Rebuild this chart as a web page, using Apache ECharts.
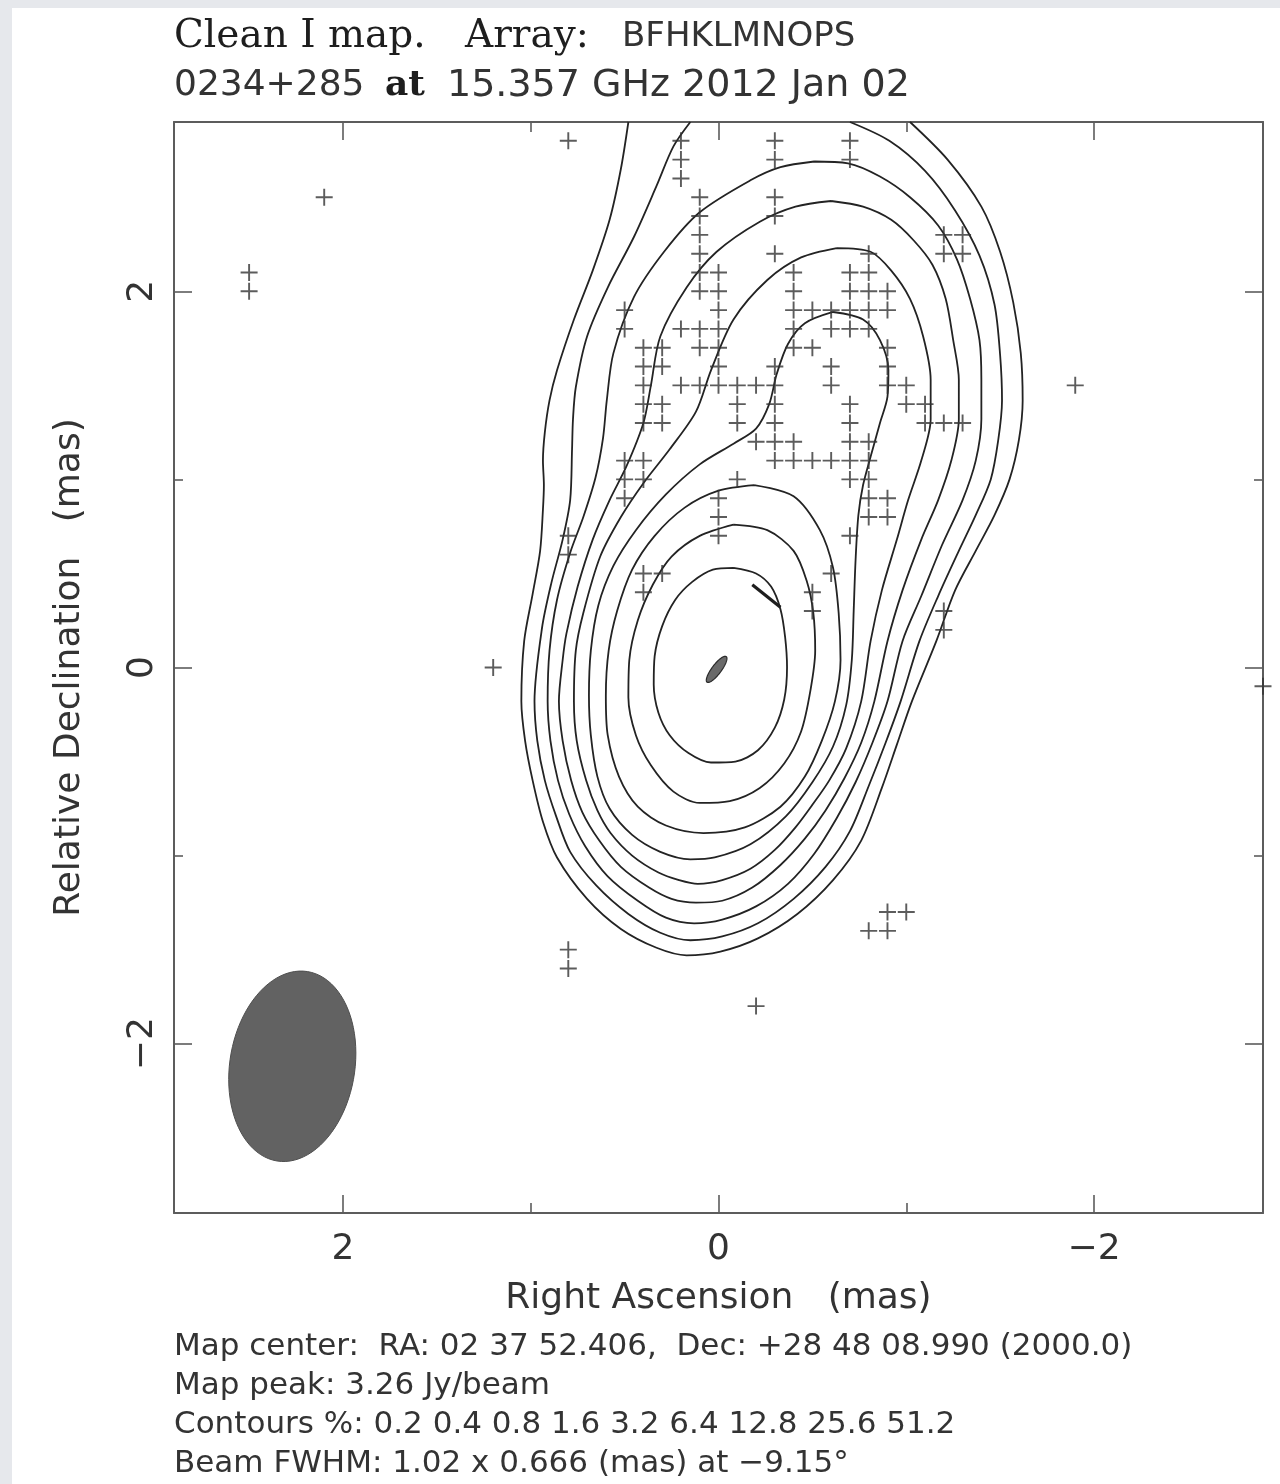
<!DOCTYPE html>
<html>
<head>
<meta charset="utf-8">
<script src="https://cdn.jsdelivr.net/npm/echarts@6/dist/echarts.min.js"></script>
<style>
  html, body { margin: 0; padding: 0; background: #e6e8ec; }
  #sheet { position: absolute; left: 12px; top: 8px; width: 1268px; height: 1476px; background: #ffffff; }
  #chart { position: absolute; left: 0; top: 0; width: 1280px; height: 1484px; }
</style>
</head>
<body>
<div id="sheet"></div>
<div id="chart"></div>
<script>
// ---- Map data: offsets in mas, [Right Ascension, Relative Declination] ----

// Contour levels, % of map peak
const contourLevels = [0.2, 0.4, 0.8, 1.6, 3.2, 6.4, 12.8, 25.6, 51.2];

// Contour paths, outermost (0.2 %) to innermost (51.2 %)
const contour0p2 = [[0.48,2.90],[0.52,2.65],[0.58,2.38],[0.67,2.11],[0.77,1.85],[0.86,1.58],[0.90,1.42],[0.925,1.25],[0.935,1.10],[0.93,0.97],[0.935,0.84],[0.95,0.62],[0.99,0.39],[1.035,0.14],[1.05,-0.18],[1.03,-0.39],[0.99,-0.60],[0.935,-0.82],[0.86,-1.01],[0.70,-1.23],[0.52,-1.39],[0.33,-1.49],[0.17,-1.53],[-0.01,-1.51],[-0.21,-1.44],[-0.42,-1.31],[-0.61,-1.13],[-0.76,-0.92],[-0.87,-0.64],[-0.95,-0.41],[-1.03,-0.18],[-1.16,0.14],[-1.26,0.41],[-1.37,0.62],[-1.47,0.81],[-1.55,1.00],[-1.60,1.21],[-1.62,1.42],[-1.61,1.67],[-1.57,1.94],[-1.50,2.21],[-1.40,2.45],[-1.22,2.70],[-1.02,2.90]];
const contour0p4 = [[0.15,2.90],[0.24,2.77],[0.33,2.56],[0.45,2.29],[0.59,2.02],[0.70,1.76],[0.76,1.49],[0.775,1.32],[0.78,1.16],[0.79,0.89],[0.83,0.68],[0.89,0.45],[0.94,0.21],[0.98,-0.18],[0.965,-0.39],[0.925,-0.60],[0.865,-0.79],[0.79,-0.98],[0.65,-1.16],[0.48,-1.31],[0.31,-1.41],[0.15,-1.45],[-0.02,-1.43],[-0.21,-1.36],[-0.40,-1.23],[-0.57,-1.06],[-0.70,-0.87],[-0.80,-0.63],[-0.89,-0.40],[-0.97,-0.18],[-1.07,0.14],[-1.17,0.38],[-1.28,0.62],[-1.37,0.81],[-1.45,1.00],[-1.49,1.21],[-1.51,1.42],[-1.50,1.66],[-1.47,1.93],[-1.39,2.19],[-1.26,2.43],[-1.10,2.64],[-0.91,2.80],[-0.70,2.90]];
const contour0p8 = [[-0.51,2.69],[-0.69,2.68],[-0.86,2.61],[-1.02,2.50],[-1.17,2.35],[-1.27,2.17],[-1.34,1.96],[-1.39,1.74],[-1.40,1.53],[-1.40,1.32],[-1.37,1.10],[-1.30,0.89],[-1.19,0.65],[-1.08,0.38],[-0.98,0.14],[-0.90,-0.18],[-0.82,-0.40],[-0.73,-0.61],[-0.63,-0.80],[-0.51,-0.99],[-0.37,-1.15],[-0.20,-1.27],[-0.02,-1.34],[0.13,-1.36],[0.28,-1.33],[0.43,-1.24],[0.59,-1.11],[0.71,-0.95],[0.795,-0.78],[0.855,-0.60],[0.895,-0.39],[0.91,-0.18],[0.90,0.09],[0.86,0.36],[0.79,0.61],[0.72,0.80],[0.655,1.01],[0.615,1.22],[0.595,1.42],[0.56,1.67],[0.45,1.97],[0.29,2.21],[0.10,2.42],[-0.17,2.59],[-0.33,2.66],[-0.51,2.69]];
const contour1p6 = [[-0.60,2.48],[-0.77,2.45],[-0.92,2.38],[-1.04,2.27],[-1.14,2.14],[-1.21,1.96],[-1.25,1.74],[-1.28,1.53],[-1.28,1.32],[-1.24,1.10],[-1.17,0.89],[-1.08,0.68],[-0.98,0.41],[-0.90,0.14],[-0.83,-0.18],[-0.76,-0.40],[-0.67,-0.59],[-0.57,-0.76],[-0.46,-0.91],[-0.33,-1.05],[-0.18,-1.17],[-0.02,-1.24],[0.12,-1.25],[0.25,-1.23],[0.37,-1.17],[0.52,-1.06],[0.635,-0.92],[0.725,-0.77],[0.785,-0.60],[0.83,-0.39],[0.85,-0.18],[0.83,0.04],[0.81,0.18],[0.75,0.43],[0.67,0.68],[0.58,0.89],[0.49,1.07],[0.40,1.30],[0.36,1.50],[0.31,1.76],[0.17,2.02],[0.01,2.21],[-0.22,2.37],[-0.41,2.45],[-0.60,2.48]];
const contour3p2 = [[-0.63,2.23],[-0.81,2.21],[-0.92,2.11],[-1.02,1.96],[-1.09,1.76],[-1.13,1.53],[-1.13,1.32],[-1.08,1.10],[-1.01,0.89],[-0.95,0.68],[-0.87,0.41],[-0.81,0.14],[-0.76,-0.18],[-0.68,-0.43],[-0.59,-0.60],[-0.50,-0.73],[-0.41,-0.85],[-0.30,-0.97],[-0.17,-1.07],[-0.02,-1.13],[0.11,-1.15],[0.21,-1.13],[0.32,-1.09],[0.46,-1.00],[0.575,-0.88],[0.645,-0.76],[0.705,-0.60],[0.755,-0.39],[0.77,-0.18],[0.76,0.09],[0.72,0.29],[0.63,0.59],[0.52,0.80],[0.40,0.98],[0.26,1.16],[0.12,1.36],[0.04,1.58],[-0.08,1.85],[-0.26,2.06],[-0.44,2.18],[-0.63,2.23]];
const contour6p4 = [[-0.61,1.89],[-0.77,1.85],[-0.86,1.74],[-0.905,1.58],[-0.90,1.44],[-0.86,1.30],[-0.81,1.12],[-0.77,0.97],[-0.745,0.81],[-0.73,0.57],[-0.72,0.30],[-0.71,0.04],[-0.68,-0.20],[-0.61,-0.42],[-0.50,-0.61],[-0.36,-0.79],[-0.17,-0.94],[0.02,-1.01],[0.15,-1.02],[0.31,-0.98],[0.46,-0.89],[0.58,-0.75],[0.645,-0.58],[0.68,-0.36],[0.69,-0.15],[0.68,0.09],[0.64,0.33],[0.56,0.54],[0.44,0.73],[0.28,0.92],[0.10,1.08],[-0.08,1.19],[-0.20,1.27],[-0.27,1.40],[-0.31,1.56],[-0.37,1.72],[-0.46,1.83],[-0.61,1.89]];
const contour12p8 = [[-0.19,0.97],[-0.40,0.91],[-0.54,0.73],[-0.61,0.53],[-0.64,0.29],[-0.65,0.04],[-0.62,-0.18],[-0.55,-0.39],[-0.46,-0.58],[-0.33,-0.74],[-0.14,-0.85],[0.08,-0.88],[0.28,-0.84],[0.43,-0.74],[0.53,-0.58],[0.59,-0.36],[0.60,-0.15],[0.585,0.09],[0.54,0.30],[0.46,0.52],[0.34,0.70],[0.18,0.85],[0.00,0.94],[-0.19,0.97]];
const contour25p6 = [[-0.08,0.76],[-0.26,0.73],[-0.40,0.62],[-0.47,0.46],[-0.505,0.29],[-0.515,0.09],[-0.49,-0.12],[-0.44,-0.34],[-0.35,-0.51],[-0.22,-0.64],[-0.06,-0.71],[0.10,-0.72],[0.24,-0.66],[0.36,-0.52],[0.44,-0.36],[0.48,-0.16],[0.475,0.04],[0.43,0.25],[0.35,0.44],[0.25,0.59],[0.10,0.70],[-0.08,0.76]];
const contour51p2 = [[-0.08,0.53],[-0.20,0.50],[-0.28,0.43],[-0.33,0.31],[-0.355,0.16],[-0.365,0.00],[-0.35,-0.17],[-0.30,-0.32],[-0.21,-0.44],[-0.09,-0.50],[0.04,-0.505],[0.16,-0.455],[0.26,-0.36],[0.32,-0.24],[0.345,-0.09],[0.34,0.06],[0.30,0.22],[0.23,0.36],[0.14,0.455],[0.03,0.52],[-0.08,0.53]];
const contourPaths = [contour0p2, contour0p4, contour0p8, contour1p6, contour3p2, contour6p4, contour12p8, contour25p6, contour51p2];

// CLEAN components
const cleanComponents = [
  [2.5,2.1],[2.5,2.0],[2.1,2.5],[0.8,2.8],[1.2,0.0],[0.8,0.7],[0.8,0.6],[0.8,-1.5],[0.8,-1.6],
  [0.5,1.9],[0.5,1.8],[0.5,1.1],[0.5,1.0],[0.5,0.9],
  [0.4,1.7],[0.4,1.6],[0.4,1.5],[0.4,1.4],[0.4,1.3],[0.4,1.1],[0.4,1.0],[0.4,0.5],[0.4,0.4],
  [0.3,1.7],[0.3,1.6],[0.3,1.4],[0.3,1.3],[0.3,0.5],
  [0.2,2.8],[0.2,2.7],[0.2,2.6],[0.2,1.8],[0.2,1.5],
  [0.1,2.5],[0.1,2.4],[0.1,2.3],[0.1,2.2],[0.1,2.1],[0.1,2.0],[0.1,1.8],[0.1,1.7],[0.1,1.5],
  [0.0,2.1],[0.0,2.0],[0.0,1.9],[0.0,1.8],[0.0,1.7],[0.0,1.6],[0.0,1.5],[0.0,0.9],[0.0,0.8],[0.0,0.7],
  [-0.1,1.5],[-0.1,1.4],[-0.1,1.3],[-0.1,1.0],
  [-0.2,1.5],[-0.2,1.2],[-0.2,-1.8],
  [-0.3,2.8],[-0.3,2.7],[-0.3,2.5],[-0.3,2.4],[-0.3,2.2],[-0.3,1.6],[-0.3,1.5],[-0.3,1.4],[-0.3,1.3],[-0.3,1.2],[-0.3,1.1],
  [-0.4,2.1],[-0.4,2.0],[-0.4,1.9],[-0.4,1.8],[-0.4,1.7],[-0.4,1.2],[-0.4,1.1],
  [-0.5,1.9],[-0.5,1.7],[-0.5,1.1],[-0.5,0.4],[-0.5,0.3],
  [-0.6,1.9],[-0.6,1.8],[-0.6,1.6],[-0.6,1.5],[-0.6,1.1],[-0.6,0.5],
  [-0.7,2.8],[-0.7,2.7],[-0.7,2.1],[-0.7,2.0],[-0.7,1.9],[-0.7,1.8],[-0.7,1.4],[-0.7,1.3],[-0.7,1.2],[-0.7,1.1],[-0.7,1.0],[-0.7,0.7],
  [-0.8,2.2],[-0.8,2.1],[-0.8,2.0],[-0.8,1.9],[-0.8,1.8],[-0.8,1.2],[-0.8,1.1],[-0.8,1.0],[-0.8,0.9],[-0.8,0.8],[-0.8,-1.4],
  [-0.9,2.0],[-0.9,1.9],[-0.9,1.7],[-0.9,1.6],[-0.9,1.5],[-0.9,0.9],[-0.9,0.8],[-0.9,-1.3],[-0.9,-1.4],
  [-1.0,1.5],[-1.0,1.4],[-1.0,-1.3],
  [-1.1,1.4],[-1.1,1.3],
  [-1.2,2.3],[-1.2,2.2],[-1.2,1.3],[-1.2,0.3],[-1.2,0.2],
  [-1.3,2.3],[-1.3,2.2],[-1.3,1.3],
  [-1.9,1.5],[-2.9,-0.1]
];

// Dense component clusters near the core
const coreBlob = [[0.01, -0.01, 0.17, 0.05, -37]];        // RA, Dec, length, width (mas), angle (deg)
const coreStreak = [[-0.18, 0.44], [-0.33, 0.32]];

// Restoring beam: RA, Dec of the drawn ellipse, FWHM major, minor (mas), position angle (deg)
const beam = [[2.27, -2.12, 1.02, 0.666, -9.15]];

// Axes
const axisRange = [-2.9, 2.9];
const majorTicks = [-2, 0, 2];
const minorTicks = [-1, 1];

// ---- Styling ----
const SANS = '"DejaVu Sans", "Liberation Sans", sans-serif';
const SERIF = '"DejaVu Serif", "Liberation Serif", serif';
const INK = '#333333';
const FRAME = '#5c5c5c';

function tickLabel(v) {
  return v < 0 ? '\u2212' + Math.abs(v) : String(v);
}

function frameAxis(position, ticks, tickLen, primary, extra) {
  return Object.assign({
    type: 'value',
    position: position,
    min: axisRange[0],
    max: axisRange[1],
    axisLine: { show: primary, onZero: false, lineStyle: { color: FRAME, width: 2 } },
    axisTick: { show: true, inside: true, length: tickLen, customValues: ticks,
                lineStyle: { color: FRAME, width: 1.6 } },
    axisLabel: { show: false },
    splitLine: { show: false },
    minorTick: { show: false }
  }, extra || {});
}

const labelStyle = (margin, rotate) => ({
  show: true, customValues: majorTicks, formatter: tickLabel,
  color: INK, fontFamily: SANS, fontSize: 36, margin: margin, rotate: rotate || 0
});

const xAxes = [
  frameAxis('bottom', majorTicks, 18, true, {
    inverse: true,
    axisLabel: labelStyle(19),
    name: 'Right Ascension   (mas)', nameLocation: 'middle', nameGap: 68,
    nameTextStyle: { color: INK, fontFamily: SANS, fontSize: 36 }
  }),
  frameAxis('bottom', minorTicks, 10, false, { inverse: true }),
  frameAxis('top', majorTicks, 18, true, { inverse: true }),
  frameAxis('top', minorTicks, 10, false, { inverse: true })
];

const yAxes = [
  frameAxis('left', majorTicks, 18, true, {
    axisLabel: labelStyle(13, 90),
    name: 'Relative Declination   (mas)', nameLocation: 'middle', nameGap: 86,
    nameTextStyle: { color: INK, fontFamily: SANS, fontSize: 36 }
  }),
  frameAxis('left', minorTicks, 9, false),
  frameAxis('right', majorTicks, 18, true),
  frameAxis('right', minorTicks, 9, false)
];

// Ellipse outline from centre, full axes and position angle (north through east; east = +RA)
function ellipseItem(params, api) {
  const ra = api.value(0), dec = api.value(1);
  const maj = api.value(2) / 2, mnr = api.value(3) / 2;
  const pa = api.value(4) * Math.PI / 180;
  const pts = [];
  for (let k = 0; k < 90; k++) {
    const t = k / 90 * 2 * Math.PI;
    const e = maj * Math.cos(t) * Math.sin(pa) + mnr * Math.sin(t) * Math.cos(pa);
    const n = maj * Math.cos(t) * Math.cos(pa) - mnr * Math.sin(t) * Math.sin(pa);
    pts.push(api.coord([ra + e, dec + n]));
  }
  return { type: 'polygon', shape: { points: pts }, style: api.style() };
}

const contourSeries = contourPaths.map((path, i) => ({
  name: contourLevels[i] + ' %',
  type: 'line',
  data: path,
  xAxisIndex: 0, yAxisIndex: 0,
  symbol: 'none',
  smooth: 0.3,
  clip: true,
  silent: true,
  lineStyle: { color: '#232323', width: 1.8 },
  z: 3
}));

const textStyle = (text, font, fill) => ({
  text: text, font: font, fill: fill || INK,
  align: 'left', verticalAlign: 'middle', textAlign: 'left', textVerticalAlign: 'middle'
});

const option = {
  animation: false,
  backgroundColor: 'transparent',
  grid: { left: 174, top: 122, width: 1089, height: 1091, containLabel: false },
  xAxis: xAxes,
  yAxis: yAxes,
  series: [
    ...contourSeries,
    {
      name: 'CLEAN components',
      type: 'scatter',
      data: cleanComponents,
      symbol: 'path://M0,7.1H16V8.9H0Z M7.1,0H8.9V16H7.1Z',
      symbolSize: 17,
      clip: false,
      silent: true,
      itemStyle: { color: '#333333' },
      z: 4
    },
    {
      name: 'core cluster',
      type: 'custom',
      renderItem: ellipseItem,
      data: coreBlob,
      encode: { x: 0, y: 1 },
      silent: true,
      itemStyle: { color: '#6a6a6a', borderColor: '#2a2a2a', borderWidth: 1.2 },
      z: 5
    },
    {
      name: 'core streak',
      type: 'line',
      data: coreStreak,
      symbol: 'none',
      silent: true,
      lineStyle: { color: '#1e1e1e', width: 3.2 },
      z: 5
    },
    {
      name: 'beam',
      type: 'custom',
      renderItem: ellipseItem,
      data: beam,
      encode: { x: 0, y: 1 },
      silent: true,
      itemStyle: { color: '#626262', borderColor: '#4e4e4e', borderWidth: 1 },
      z: 2
    }
  ],
  graphic: [
    { type: 'text', x: 174, y: 37, style: textStyle('Clean I map.', '39px ' + SERIF, '#1e1e1e') },
    { type: 'text', x: 465, y: 37, style: textStyle('Array:', '39px ' + SERIF, '#1e1e1e') },
    { type: 'text', x: 622, y: 37, style: textStyle('BFHKLMNOPS', '34px ' + SANS) },
    { type: 'text', x: 174, y: 86, style: textStyle('0234+285', '36px ' + SANS) },
    { type: 'text', x: 385, y: 86, style: textStyle('at', 'bold 36px ' + SERIF, '#1e1e1e') },
    { type: 'text', x: 447, y: 86, style: textStyle('15.357 GHz 2012 Jan 02', '38px ' + SANS) },
    { type: 'text', x: 174, y: 1347, style: textStyle('Map center:  RA: 02 37 52.406,  Dec: +28 48 08.990 (2000.0)', '31px ' + SANS) },
    { type: 'text', x: 174, y: 1386, style: textStyle('Map peak: 3.26 Jy/beam', '31px ' + SANS) },
    { type: 'text', x: 174, y: 1425, style: textStyle('Contours %: ' + contourLevels.join(' '), '31px ' + SANS) },
    { type: 'text', x: 174, y: 1464, style: textStyle('Beam FWHM: 1.02 x 0.666 (mas) at \u22129.15\u00B0', '31px ' + SANS) }
  ]
};

const chart = echarts.init(document.getElementById('chart'), null, { renderer: 'canvas', width: 1280, height: 1484 });
chart.setOption(option);
</script>
</body>
</html>
